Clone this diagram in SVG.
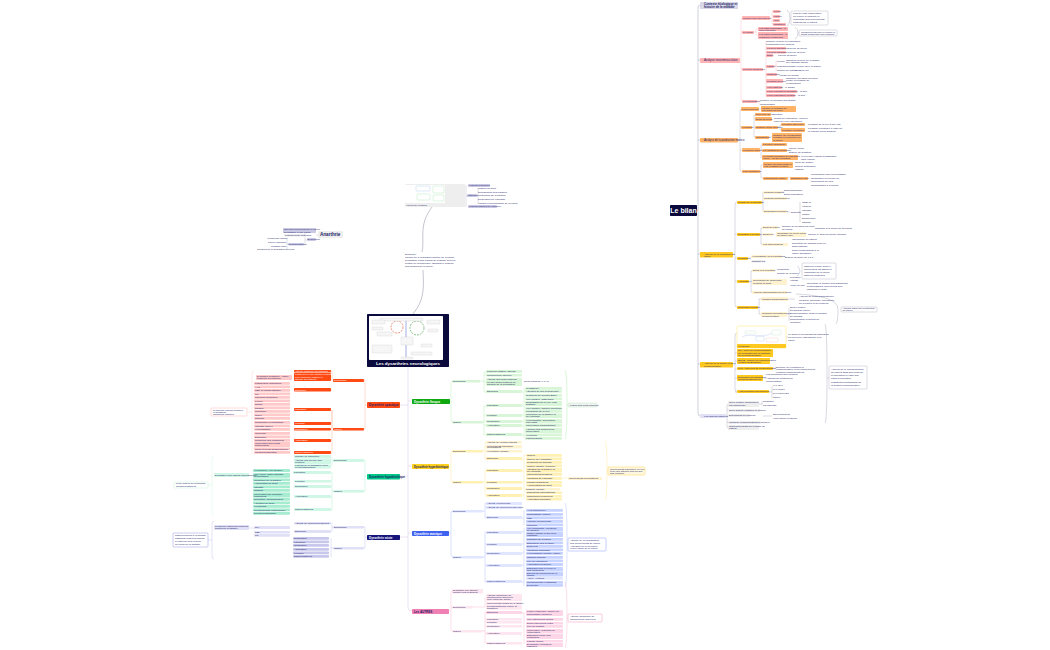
<svg xmlns="http://www.w3.org/2000/svg" width="1050" height="650" viewBox="0 0 1050 650">
<style>
text{font-family:"Liberation Sans",Arial,sans-serif;font-size:2.5px;fill:#1c1c66}
rect{rx:.8px}
.b text{font-weight:bold}
.c path,path.c{fill:none;stroke-width:.5}
.big text{font-size:4.6px;font-weight:bold}
.w text{fill:#fff}
.rp rect{fill:#ffb3b3}.or rect{fill:#ffb366}.go rect{fill:#ffc81e}.ly rect{fill:#fff3cf}.gr rect{fill:#eeeeee}
.li rect{fill:#c9c9e6}.no rect{fill:#fff;stroke:#b8b8c8;stroke-width:.5}
.rd rect{fill:#ff4a14}.pk rect{fill:#ffc9c9}.mg rect{fill:#a6ecd0}.lg rect{fill:#d0f6e6}.lv rect{fill:#e0e0f6}.lw rect{fill:#c8c8ec}
.fl rect{fill:#d8f5d8}.ye rect{fill:#fff0b4}.bl rect{fill:#c6d2ff}.lb rect{fill:#e0e6ff}.rs rect{fill:#fcd6e6}.lr rect{fill:#fde6ef}
.pkn rect{fill:#fff;stroke:#ffb0b0;stroke-width:.5}.grn rect{fill:#fff;stroke:#c8f0dc;stroke-width:.5}.vin rect{fill:#fff;stroke:#a8a8e8;stroke-width:.6}
.yen rect{fill:#fff8e0;stroke:#ffdc70;stroke-width:.6}.bln rect{fill:#fff;stroke:#9db0ff;stroke-width:.6}.rsn rect{fill:#fff;stroke:#f4a8c8;stroke-width:.6}.fln rect{fill:#f0f4f0;stroke:#c0e8c0;stroke-width:.5}
</style>
<g id="connectors" class="c">
<path stroke="#a0a0bc" stroke-width=".8" d="M697,210H698M700,5Q698,5 698,8V413Q698,416 700,416M698,60H700M698,140H700M698,254H700M698,364H700"/>
<path stroke="#ffc4c4" d="M740,60H741M742,18Q741,18 741,20V99Q741,101 742,101M741,32H742M741,69H742M770,18H772M772,11V24M772,11H773M772,16H773M772,20H773M772,24H773M754,32H756M756,29V35M756,29H758M756,35H758M763,70H765M766,42V96M757,101H760M757,101Q758,103 760,104M774,66H776M776,61V70M776,61H777M776,66H777M776,70H777"/>
<path stroke="#b0b0c0" d="M787,10Q790,12 790,18Q790,24 787,26M790,18H791M795,27Q798,29 798,33Q798,37 795,39M798,33H799M796,294Q838,296 838,309Q838,322 836,324"/>
<path stroke="#b8b8cc" d="M738,140H740M741,109Q740,109 740,112V169Q740,172 742,172M740,127H741M740,150H742M759,109H761M752,127H753M754,115V137M754,115H755M754,119H755M754,127H755M754,137H755M778,127H780M780,125V130M780,125H781M780,130H781M769,137H772M760,150H761M761,145V158M761,145H762M761,150H762M761,158H762M760,172H761M761,165V178M761,165H763M761,178H763M788,178H790"/>
<path stroke="#b0b0c4" d="M733,254H735M737,202Q735,202 735,205V305Q735,307 737,307M735,234H737M735,258H737M735,281H737M762,202H763M763,192V212M763,192H763M763,198H763M763,212H763M787,212H790M798,212H800M800,202V222M782,192H784M760,235H761M761,228V244M761,228H762M761,234H762M761,244H762M751,281H752M751,271V292M751,271H752M751,282H752M751,292H752M748,258H751M758,307H759M759,299V314M759,299H761M759,314H761M788,299H795M787,314H789M789,308V321"/>
<path stroke="#b0b0c4" d="M797,266Q800,268 800,271Q800,274 797,276M825,324Q827,326 827,375Q827,421 825,423M827,378H829"/>
<path stroke="#b0b0c4" d="M733,364H735M737,333Q735,333 735,336V389Q735,392 737,392M735,353H737M735,361H737M735,369H737M735,378H737M735,392H737M786,337H788M773,368H776M763,378H766M769,392H772M772,386V398"/>
<path stroke="#b0b0c4" d="M726,416H727M728,404Q727,404 727,406V426Q727,428 728,428M727,410H728M727,416H728M727,422H728M759,404H762M762,401V405M763,416H772"/>
<path stroke="#c0c0d0" d="M316,235H318M305,240H307M305,231V245M305,231H316M305,235H304M305,245H304M287,238V249M287,244H288M477,196H478M466,185V207M466,196H467M478,188V203"/>
<path stroke="#8a8aa0" stroke-width=".5" d="M432,207C418,225 425,240 422,252M423,270C424,290 424,300 413,314"/>
<path stroke="#d8c4e4" stroke-width=".8" d="M408,367V608Q408,611 412,611M400,405H408M400,476H408M400,537H408M408,401H412M408,466H412M408,533H412"/>
<path stroke="#ffb8a0" d="M367,405H365M365,380V429M365,380H364M365,429H364M333,380H332V371M332,390H331M332,371H331M332,410V429M332,423H331M332,440H331M332,453H331M332,410V453"/>
<path stroke="#ffd4d4" d="M254,371Q252,371 252,374V451Q252,454 254,454M252,412H248"/>
<path stroke="#b4eed4" d="M367,476H365M365,460V491M365,460H364M365,491H364M333,461H332M332,457V466M333,491H332M332,472V510M332,481H331M332,486H331M332,497H331M332,510H331"/>
<path stroke="#d4f4e4" d="M214,456Q212,456 212,459V512Q212,515 214,515M212,485H208M249,475H252"/>
<path stroke="#c4c4ec" d="M367,537H365M365,527V548M365,527H364M365,548H364M332,523V532M333,527H332M331,548H333M331,538V557M249,528H253M254,528H253"/>
<path stroke="#c4c4ec" d="M214,521Q212,521 212,524V556Q212,559 214,559M212,540H208"/>
<path stroke="#b4f0b4" d="M450,401H451M452,381Q451,381 451,384V419Q451,422 452,422M480,381H484M484,372V392M484,372H486M484,375H486M484,382H486M484,392H486M483,422H484M484,406V435M484,406H486M484,415H486M484,421H486M484,425H486M484,435H486M522,392H524M524,388V438M522,406H524M522,415H524M522,421H524M522,426H524M522,435H524M565,370Q567,372 567,404Q567,437 565,439M567,405H568"/>
<path stroke="#ffe89c" d="M449,466H451M452,451Q451,451 451,454V479Q451,482 452,482M483,451H485M485,442V459M485,442H486M485,447H486M485,451H486M485,459H486M483,482H485M485,470V495M485,470H486M485,482H486M485,488H486M485,495H486M522,459H524M524,455V499M524,455H526M522,471H524M522,482H524M522,495H524M562,478H568M605,441Q607,443 607,470Q607,498 605,500M607,471H608"/>
<path stroke="#b4c4ff" d="M449,533H451M452,511Q451,511 451,514V554Q451,557 452,557M483,511H485M485,503V518M485,503H486M485,507H486M485,518H486M483,557H485M485,532V582M485,532H486M485,544H486M485,553H486M485,565H486M485,582H486M522,518H524M524,510V525M524,528V586M522,532H524M522,544H524M522,553H524M522,565H524M522,582H524M565,503Q567,505 567,540Q567,585 565,587M567,544H568"/>
<path stroke="#fbbcd4" d="M449,611H451M452,591Q451,591 451,594V628Q451,631 452,631M451,607H452M473,607H485M485,597V607M483,631H485M485,612V643M485,612H486M485,619H486M485,622H486M485,626H486M485,633H486M485,643H486M522,613H524M524,612V644M565,582Q567,584 567,614Q567,646 565,648M567,618H568"/>
</g>
<g id="center" class="w"><rect x="367" y="314" width="82" height="53" fill="#0a0a3c"/><rect x="369" y="316" width="74" height="44" fill="#fff" rx="0"/>
<g fill="none" stroke-width=".6"><circle cx="397" cy="327" r="6" stroke="#e0502a" stroke-dasharray="2 1"/><circle cx="417" cy="328" r="7" stroke="#40a040" stroke-dasharray="2 1"/><path d="M406,319V358" stroke="#6a7ad0"/></g>
<g fill="#f6f6f6" stroke="#c0c0c0" stroke-width=".25"><rect x="380" y="318" width="43" height="3"/><rect x="372" y="320" width="13" height="4"/><rect x="372" y="327" width="11" height="3"/><rect x="377" y="332" width="15" height="4"/><rect x="427" y="320" width="13" height="4"/><rect x="428" y="329" width="10" height="3"/><rect x="401" y="337" width="12" height="8"/><rect x="421" y="344" width="11" height="3"/><rect x="372" y="345" width="20" height="8"/><rect x="411" y="352" width="21" height="3"/><rect x="401" y="357" width="12" height="2"/></g>
<text x="408" y="365" text-anchor="middle" style="font-size:4.4px;font-weight:bold;fill:#fff">Les dysarthries neurologiques</text></g>
<g id="bilan"><rect x="670" y="205" width="27" height="11" fill="#0a0a3c"/><text x="683.5" y="213" text-anchor="middle" style="font-size:7px;font-weight:bold;fill:#fff">Le bilan</text></g>
<g id="anarthrie"><rect x="318" y="231" width="25" height="7" fill="#eee"/><text x="320" y="236.2" style="font-size:4.6px;font-weight:bold">Anarthrie</text></g>
<g id="a1" class="li"><rect x="283" y="228" width="33" height="5"/><text x="284" y="230.2">Non développement de la parole</text><text x="284" y="232.6">secondaire à une lésion</text></g>
<g id="a2" class="gr"><rect x="284" y="234" width="20" height="2.5"/><text x="285" y="235.9">Lésions sous-corticales</text></g>
<g id="a3" class="li"><rect x="307" y="238" width="9" height="3"/><text x="307.5" y="240.3">Description</text></g>
<g id="a4" class="li"><rect x="288" y="243" width="16" height="2.5"/><text x="288.5" y="245">Caractéristiques</text></g>
<text id="a5" x="267" y="239">Hémiplégie faciale</text><text id="a6" x="268" y="243">Larynx immobile</text><text id="a7" x="271" y="247">Mutisme total</text><text id="a8" x="257" y="250">Troubles de la déglutition sévères</text>
<g id="top" class="gr"><rect x="405" y="184" width="60" height="23"/><rect x="405" y="185" width="40" height="18" style="fill:#fff"/><g fill="none" stroke-width=".4"><rect x="416" y="186" width="14" height="5" style="fill:#fff;stroke:#a8c8e8"/><rect x="417" y="194" width="13" height="6" style="fill:#fff;stroke:#a8e0b0"/><rect x="433" y="186" width="11" height="7" style="fill:#fff;stroke:#a8e0b0"/><rect x="433" y="195" width="11" height="6" style="fill:#fff;stroke:#a8e0b0"/></g><text x="405.5" y="206">Aperçu de la parole</text></g>
<g id="t1" class="li"><rect x="468" y="184" width="22" height="3"/><text x="469" y="186.4">Lésions bilatérales</text></g>
<g id="t2" class="li"><rect x="467" y="194" width="10" height="3"/><text x="468" y="196.4">Objectifs</text></g>
<text id="t3" x="478" y="189">Posture du sujet</text><text id="t4" x="478" y="192.5">Coordination des organes</text><text id="t5" x="478" y="196">Modulation de la hauteur</text><text id="t6" x="478" y="199.5">Respiration de l'intensité</text><text id="t7" x="478" y="203.5">Pauses et accentuation de la parole</text>
<g id="t8" class="li"><rect x="468" y="205" width="29" height="3"/><text x="469" y="207.3">Lésions diffuses de l'appareil</text></g>
<g id="mid"><text x="405" y="255">Définition :</text><text x="405" y="258">Trouble de la réalisation motrice de la parole</text><text x="405" y="261">secondaire à des lésions du système nerveux</text><text x="405" y="264">central ou périphérique, affectant le contrôle</text><text x="405" y="267">des muscles de la parole.</text></g>

<g id="r0" class="gr"><rect x="700" y="2" width="38" height="7" style="fill:#d8d8e8"/><text x="704" y="5" style="font-weight:bold;font-size:3px">Contexte étiologique et</text><text x="704" y="8" style="font-weight:bold;font-size:3px">histoire de la maladie</text></g>
<g id="r1" class="rp"><rect x="700" y="58" width="40" height="5"/><text x="704" y="61.2" style="font-size:3px">Analyse neuromusculaire</text></g>
<g id="r2" class="rp"><rect x="742" y="16" width="28" height="4"/><text x="743" y="18.8">Mobilité des articulateurs</text></g>
<g id="r3" class="rp"><rect x="773" y="10" width="7" height="3"/><text x="773.5" y="12.2">Lèvres</text></g>
<g id="r4" class="rp"><rect x="773" y="15" width="7" height="3"/><text x="773.5" y="17.2">Langue</text></g>
<g id="r5" class="rp"><rect x="773" y="19" width="7" height="3"/><text x="773.5" y="21.2">Voile</text></g>
<g id="r6" class="rp"><rect x="773" y="23" width="13" height="3"/><text x="773.5" y="25.2">Mandibule</text></g>
<g id="r7" class="no"><rect x="791" y="11" width="37" height="14"/><text x="793" y="14">Lors de cette observation,</text><text x="793" y="17">on évalue la motricité et</text><text x="793" y="20">l'amplitude des mouvements</text><text x="793" y="23">produits par le patient.</text></g>
<g id="r8" class="rp"><rect x="742" y="31" width="12" height="3"/><text x="743" y="33.2">Le tonus</text></g>
<g id="r9" class="rp"><rect x="758" y="27" width="30" height="4"/><text x="759" y="29">Les tests quantitatifs : la</text><text x="759" y="30.8">force maximale</text></g>
<g id="r10" class="rp"><rect x="758" y="32" width="30" height="7"/><text x="759" y="35">Les tests fonctionnels : la</text><text x="759" y="37.8">résistance musculaire</text></g>
<g id="r11" class="no"><rect x="799" y="30" width="38" height="6"/><text x="801" y="33">Comment parvenir à évaluer le</text><text x="801" y="35.2">tonus musculaire des organes</text></g>
<g id="r12" class="rp"><rect x="742" y="68" width="21" height="3"/><text x="743" y="70.2">La force musculaire</text></g>
<text id="r13" x="766" y="42">Mesurer la force et l'endurance</text><text id="r14" x="766" y="45">comparaison aux normes</text>
<g id="r15" class="rp"><rect x="766" y="47" width="20" height="2.5"/><text x="767" y="48.9">La force spontanée</text></g><text id="r15b" x="788" y="49">pouvoir de serrer</text>
<g id="r16" class="rp"><rect x="766" y="51" width="20" height="2.5"/><text x="767" y="52.9">La force maximale</text></g><text id="r16b" x="788" y="53">pouvoir de tenir</text>
<g id="r17" class="rp"><rect x="766" y="54" width="7" height="3"/><text x="767" y="56.2">Bulbe</text></g><text id="r17b" x="778" y="56">pouvoir de sucer</text>
<g id="r18" class="rp"><rect x="766" y="65" width="8" height="3"/><text x="767" y="67.2">Langue</text></g>
<text id="r19" x="777" y="62">Lèvres</text><text id="r19b" x="786" y="60.5">maintenir la force de la langue</text><text id="r19c" x="786" y="63">sur l'abaisse-langue</text>
<text id="r20" x="777" y="67">Plancher</text><text id="r20b" x="787" y="67">pousser la joue avec la langue</text><text id="r21" x="777" y="71">Mesure de langue</text><text id="r21b" x="795" y="71">pression 3 s</text>
<g id="r22" class="rp"><rect x="766" y="73" width="11" height="3"/><text x="767" y="75.2">Mastication</text></g><text id="r22b" x="780" y="75.5">souffle de bougie</text>
<g id="r23" class="rp"><rect x="766" y="79" width="17" height="4"/><text x="767" y="81.8">Pression buccale</text></g><text id="r23b" x="786" y="78.5">maintenir l'air dans les joues</text><text id="r23c" x="786" y="81">contre la pression de</text><text id="r23d" x="786" y="83.5">l'examinateur</text>
<g id="r24" class="rp"><rect x="766" y="86" width="16" height="3"/><text x="767" y="88.2">Vélo-pharyngé</text></g><text id="r24b" x="785" y="88">le souffle</text>
<g id="r25" class="rp"><rect x="766" y="90" width="31" height="3"/><text x="767" y="92.2">Force pendant la déglutition</text></g><text id="r25b" x="800" y="92">la toux</text>
<g id="r26" class="rp"><rect x="766" y="94" width="29" height="3"/><text x="767" y="96.2">Force phonatoire pendant</text></g><text id="r26b" x="798" y="96">la toux</text>
<g id="r27" class="rp"><rect x="742" y="100" width="15" height="3"/><text x="743" y="102.2">La coordination</text></g><text id="r27b" x="760" y="101">Mesurer la précision des gestes</text><text id="r27c" x="760" y="104.5">Comparaison</text>

<g id="o0" class="or"><rect x="700" y="138" width="38" height="4.5"/><text x="704" y="141" style="font-size:2.8px">Analyse de la production motrice</text></g>
<g id="o1" class="or"><rect x="741" y="107" width="18" height="4"/><text x="742" y="109.8">Force générale</text></g>
<g id="o2" class="or"><rect x="761" y="106" width="35" height="6"/><text x="762" y="108.5">Mesure la pression de</text><text x="762" y="111">l'air dans les joues</text></g>
<g id="o3" class="or"><rect x="741" y="126" width="11" height="3"/><text x="742" y="128.2">La motilité</text></g>
<g id="o4" class="or"><rect x="755" y="113" width="16" height="3"/><text x="755.5" y="115.2">Seuil type de respiration</text></g>
<g id="o5" class="or"><rect x="755" y="117" width="17" height="4"/><text x="756" y="119.8">Débit au repos</text></g><text id="o5b" x="774" y="119">Temps de respiration : 10/15 s</text><text id="o5c" x="774" y="121.5">pour un cycle respiratoire</text>
<g id="o6" class="or"><rect x="755" y="126" width="23" height="3"/><text x="756" y="128.2">Contrôle d'une pression</text></g>
<g id="o7" class="or"><rect x="781" y="123" width="24" height="3"/><text x="782" y="125.2">Pression intra-orale</text></g><text id="o7b" x="808" y="125">Pression de la voix 5 cm H₂O</text>
<g id="o8" class="or"><rect x="781" y="128" width="24" height="4"/><text x="782" y="130.8">Pression expiratoire</text></g><text id="o8b" x="808" y="129">Pression expiratoire à l'aide de</text><text id="o8c" x="808" y="132">la colonne d'eau graduée</text>
<g id="o9" class="or"><rect x="755" y="136" width="14" height="3"/><text x="756" y="138.2">Coordination</text></g>
<g id="o10" class="or"><rect x="772" y="133" width="30" height="9"/><text x="773" y="135.5">Contrôle de la respiration</text><text x="773" y="138">pendant la production de</text><text x="773" y="140.5">la parole</text></g>
<g id="o11" class="or"><rect x="742" y="148" width="18" height="4"/><text x="743" y="150.8">La source sonore</text></g>
<g id="o12" class="or"><rect x="762" y="143" width="25" height="3"/><text x="763" y="145.2">La tenue phonatoire</text></g>
<g id="o13" class="or"><rect x="762" y="149" width="25" height="3"/><text x="763" y="151.2">La variation de fréquence</text></g><text id="o13b" x="789" y="149">Sirène vocale</text><text id="o13c" x="789" y="153">Échelle de Tessiture</text>
<g id="o14" class="or"><rect x="762" y="155" width="36" height="5"/><text x="763" y="157">Le temps maximum de phonation</text><text x="763" y="159.3">(TMP) : [a] sur expiration</text></g><text id="o14b" x="801" y="157">Ici 5 s chez l'adulte dysarthrique</text><text id="o14c" x="801" y="160">chez l'adulte</text>
<g id="o15" class="or"><rect x="742" y="170" width="18" height="3"/><text x="743" y="172.2">Les résonateurs</text></g>
<g id="o16" class="or"><rect x="763" y="162" width="30" height="6"/><text x="764" y="164.5">Mesure du débit nasal et</text><text x="764" y="167">oral pendant la parole</text></g><text id="o16b" x="795" y="163">Miroir de Glatzel</text><text id="o16c" x="795" y="167">Test de Gutzmann</text><text id="o16d" x="795" y="170">nasalité</text>
<g id="o17" class="or"><rect x="763" y="177" width="25" height="3"/><text x="764" y="179.2">Perméabilité nasale</text></g>
<g id="o18" class="or"><rect x="790" y="177" width="18" height="3"/><text x="791" y="179.2">Nasalance orale</text></g><text id="o18b" x="811" y="175">Perméabilité des voies nasales</text><text id="o18c" x="811" y="179">Résonance et vélocité du</text><text id="o18d" x="811" y="182">mouvement du voile</text><text id="o18e" x="811" y="186">Comparaison à la norme</text>

<g id="g0" class="go"><rect x="700" y="252" width="33" height="5.5"/><text x="704" y="254.5">Analyse de la production de</text><text x="704" y="257">parole</text></g>
<g id="g1" class="go"><rect x="737" y="201" width="25" height="3"/><text x="738" y="203.2">Qualité de la phonation</text></g>
<g id="g2" class="ly"><rect x="763" y="191" width="19" height="3"/><text x="764" y="193.2">Mesures cliniques</text></g><text id="g2b" x="784" y="191">Débit thoracique</text><text id="g2c" x="784" y="195">Débit respiratoire</text>
<g id="g3" class="ly"><rect x="763" y="197" width="24" height="3"/><text x="764" y="199.2">Mesures fonctionnelles</text></g>
<g id="g4" class="ly"><rect x="763" y="210" width="24" height="3"/><text x="764" y="212.2">Evaluation perceptive</text></g><text id="g4b" x="791" y="213">Echelles</text>
<text id="g5" x="802" y="203">GRBAS</text><text id="g6" x="802" y="207">Hauteur</text><text id="g7" x="802" y="211">Intensité</text><text id="g8" x="802" y="215">Timbre</text><text id="g9" x="802" y="219">Ecoulement</text><text id="g10" x="802" y="223">Stabilité</text>
<g id="g11" class="go"><rect x="737" y="233" width="23" height="3"/><text x="738" y="235.2">Evocation à la parole</text></g>
<g id="g12" class="ly"><rect x="762" y="226" width="16" height="3"/><text x="763" y="228.2">Débit de parole</text></g><text id="g12b" x="782" y="227">Nombre de syllabes par unité</text><text id="g12c" x="782" y="230">de temps</text><text id="g12d" x="815" y="229">Comparé à la norme de sa parole</text>
<g id="g13" class="ly"><rect x="762" y="233" width="11" height="3"/><text x="763" y="235.2">Débit réel</text></g>
<g id="g14" class="ly"><rect x="776" y="232" width="30" height="5"/><text x="777" y="234.2">Comptage en fin de parole</text><text x="777" y="236.4">ou parole libre</text></g><text id="g14b" x="808" y="235">Calcule le débit au même moment</text>
<g id="g15" class="ly"><rect x="762" y="243" width="26" height="3"/><text x="763" y="245.2">Les interlocuteurs</text></g><text id="g16" x="792" y="240">Intelligibilité du patient</text><text id="g17" x="792" y="244">Répétition de phrases avec ou</text><text id="g17b" x="792" y="247">sans indiçage</text><text id="g18" x="792" y="250.5">Score d'intelligibilité à la</text><text id="g18b" x="792" y="253.5">parole spontanée</text>
<g id="g19" class="go"><rect x="737" y="257" width="11" height="3"/><text x="738" y="259.2">Résonance</text></g>
<g id="g20" class="ly"><rect x="751" y="255" width="31" height="3"/><text x="752" y="257.2">Hyponasalité ou hypernasalité</text></g><text id="g20b" x="785" y="257.5">Échelle de score de 0 à 3</text>
<g id="g21" class="gr"><rect x="751" y="260" width="14" height="2.5"/><text x="752" y="261.9">Nasalité 0/3</text></g>
<g id="g22" class="go"><rect x="737" y="280" width="12" height="3"/><text x="738" y="282.2">Articulation</text></g>
<g id="g23" class="ly"><rect x="752" y="269" width="23" height="3"/><text x="753" y="271.2">Dires et la répétition</text></g><text id="g23b" x="777" y="270">Production</text><text id="g23c" x="777" y="273.5">Qualité de la parole</text>
<g id="g24" class="no"><rect x="802" y="263" width="34" height="16"/><text x="804" y="266.5">Observer à quel point le</text><text x="804" y="269.5">mouvement est atteint et</text><text x="804" y="272.5">l'amplitude de la parole</text><text x="804" y="275.5">dans les contextes</text></g>
<g id="g25" class="ly"><rect x="752" y="279" width="35" height="6"/><text x="753" y="281.2">Répétitions de phonèmes,</text><text x="753" y="284">syllabes et mots</text></g><text id="g25b" x="790" y="278">Précision</text><text id="g25c" x="790" y="281">Vitesse</text><text id="g25d" x="790" y="286">Voulu ou non</text><text id="g25e" x="807" y="284">Répétition et mesure des distorsions</text><text id="g25f" x="807" y="287">systématiques, des erreurs d'un</text><text id="g25g" x="807" y="290">phonème à l'autre</text>
<g id="g26" class="ly"><rect x="752" y="291" width="35" height="3"/><text x="753" y="293.2">Analyse phonologique de la parole</text></g>
<g id="g27" class="go"><rect x="737" y="306" width="21" height="3"/><text x="738" y="308.2">Évaluation courante</text></g>
<g id="g28" class="ly"><rect x="761" y="297" width="27" height="4"/><text x="762" y="299.8">Phrases-transposables</text></g><text id="g28b" x="799" y="297">Analyse de mots grammaticaux</text><text id="g28c" x="799" y="301">Mesures, approche, intelligence</text><text id="g28d" x="799" y="304">de la parole et du contexte</text>
<g id="g29" class="ly"><rect x="761" y="312" width="26" height="5"/><text x="762" y="314.2">Mesures perceptuelles en</text><text x="762" y="316.5">communication</text></g><text id="g29b" x="790" y="308">Durée relative</text><text id="g29c" x="790" y="310.5">du débit de parole</text><text id="g29d" x="790" y="314">Compréhension, sens et réaction</text><text id="g29e" x="790" y="317">de phrases</text><text id="g29f" x="790" y="320">Simplification et scores de</text><text id="g29g" x="790" y="323">répétition</text>
<g id="g30" class="no"><rect x="841" y="307" width="36" height="5"/><text x="842.5" y="309.2">Aborder dans une production</text><text x="842.5" y="311.3">de parole</text></g>

<g id="h0" class="go"><rect x="700" y="362" width="33" height="5.5"/><text x="704" y="364.2">Analyse de la parole et de la</text><text x="704" y="366.8">communication</text></g>
<g id="h1"><rect x="737" y="326" width="49" height="22" fill="#fff" stroke="#fff0a8" stroke-width=".8"/><g fill="none" stroke-width=".3"><rect x="745" y="331" width="11" height="3" stroke="#b0e0c0"/><path d="M742,337C750,332 760,340 772,333" stroke="#a0b0e8"/><rect x="772" y="330" width="9" height="5" stroke="#b0e0c0"/><rect x="756" y="336" width="8" height="5" stroke="#a0b8f0"/><rect x="766" y="338" width="12" height="4" stroke="#f0b8a8"/></g><rect x="737" y="344" width="49" height="4" fill="#ffc81e" rx="0"/><text x="738" y="346.8">Hiérarchie</text></g><text id="h1b" x="788" y="335">Le débit et les indicateurs phoniques</text><text id="h1c" x="788" y="338">en lien avec l'intelligibilité et la</text><text id="h1d" x="788" y="341">parole</text>
<g id="h2" class="go"><rect x="737" y="349" width="36" height="8"/><text x="738" y="351.2">CIF : grille de compréhension</text><text x="738" y="353.6">de la maladie sur la limitation</text><text x="738" y="356">de la communication</text></g>
<g id="h3" class="go"><rect x="737" y="358" width="33" height="6"/><text x="738" y="360.5">ECVB : échelle de communication</text><text x="738" y="363">verbale de Bordeaux</text></g>
<g id="h4" class="go"><rect x="737" y="367" width="36" height="3"/><text x="738" y="369.2">TLC : test lillois de communication</text></g><text id="h4b" x="776" y="367.5">Détecter en évaluation la</text><text id="h4c" x="776" y="370">communication et les compétences</text><text id="h4d" x="776" y="372.5">verbales communicatives</text>
<g id="h5" class="go"><rect x="737" y="375" width="26" height="6"/><text x="738" y="377.5">Évaluation des stratégies</text><text x="738" y="380">communicationnelles</text></g><text id="h5b" x="766" y="375">Les fournitures des verbales</text><text id="h5c" x="766" y="379">Actualité de mesures de</text><text id="h5d" x="766" y="382">compensation</text>
<g id="h6" class="go"><rect x="737" y="390" width="32" height="3"/><text x="738" y="392.2">Autoévaluation fonctionnelle</text></g><text id="h6b" x="773" y="386">VHI, DHI</text><text id="h6c" x="773" y="390">PHI parole</text><text id="h6d" x="773" y="394">PHI parole EU</text><text id="h6e" x="773" y="398">CSN-6</text>
<g id="h7" class="no"><rect x="829" y="366" width="38" height="23"/><text x="831" y="370">Analyse de la communication</text><text x="831" y="373">du patient dans son contexte</text><text x="831" y="376">et interaction à l'aide des</text><text x="831" y="379">outils d'évaluation</text><text x="831" y="383">Possibilités d'intégration de</text><text x="831" y="386">la fonction communicative</text></g>
<g id="i0" class="lv"><rect x="700" y="414" width="26" height="4"/><text x="704" y="416.8">Les facteurs associés</text></g>
<g id="i1" class="gr"><rect x="728" y="401" width="31" height="6"/><text x="729" y="403.4">Grille clinique fonctionnelle</text><text x="729" y="405.9">par phonologie</text></g><text id="i1b" x="763" y="402">Cognition</text><text id="i1c" x="763" y="406">Psychologie</text>
<g id="i2" class="gr"><rect x="728" y="409" width="32" height="3"/><text x="729" y="411.2">Grille globale cognitive et motrice</text></g>
<g id="i3" class="gr"><rect x="728" y="414" width="22" height="3"/><text x="729" y="416.2">Dimensions du contexte</text></g><text id="i3b" x="773" y="415">Environnement</text><text id="i3c" x="773" y="419">Vécu social et familial</text>
<g id="i4" class="gr"><rect x="728" y="421" width="33" height="3"/><text x="729" y="423.2">Motifs de communications à domicile</text></g>
<g id="i5" class="gr"><rect x="728" y="425" width="31" height="5"/><text x="729" y="427.2">Outils spécialisés de la santé du</text><text x="729" y="429.4">patient</text></g>

<g id="sp" class="rd w"><rect x="367" y="402" width="33" height="6"/><text x="369" y="406" style="font-size:3px;font-weight:bold;fill:#1c1c66">Dysarthrie spastique</text></g>
<g id="sp1" class="rd w"><rect x="333" y="379" width="31" height="3"/><text x="334" y="381.2">Description</text></g>
<g id="sp2" class="rd w"><rect x="333" y="428" width="31" height="2.6"/><text x="334" y="430.2">Signes</text></g>
<g id="sp3" class="rd w"><rect x="294" y="370" width="37" height="2.5"/><text x="295" y="371.9">Atteinte bilatérale du faisceau</text></g>
<g id="sp4" class="rd w"><rect x="294" y="373" width="37" height="8"/><text x="295" y="375.3">Lésion de la voie motrice centrale</text><text x="295" y="377.6">avec paralysie motrice et</text><text x="295" y="379.9">atteinte du système</text></g>
<g id="sp5" class="rd w"><rect x="294" y="388" width="37" height="3.5"/><text x="295" y="390.6">Étiologies</text></g>
<g id="sp6" class="rd w"><rect x="294" y="408" width="37" height="3"/><text x="295" y="410.2">Phonation</text></g>
<g id="sp7" class="rd w"><rect x="294" y="422" width="37" height="3"/><text x="295" y="424.2">Prosodie</text></g>
<g id="sp8" class="rd w"><rect x="294" y="428" width="37" height="2.6"/><text x="295" y="430.2">Résonance</text></g>
<g id="sp9" class="rd w"><rect x="294" y="439" width="37" height="3"/><text x="295" y="441.2">Articulation</text></g>
<g id="sp10" class="rd w"><rect x="294" y="451" width="37" height="3"/><text x="295" y="453.2">Signes associés</text></g>
<g id="p0" class="pk"><rect x="256" y="375" width="36" height="5"/><text x="257" y="377.2">Dysarthrie spastique : lésion</text><text x="257" y="379.4">bilatérale du faisceau</text></g>
<g id="p1" class="pk"><rect x="254" y="382" width="36" height="2.7"/><text x="255" y="384">Pathologies vasculaires</text></g>
<g id="p2" class="pk"><rect x="254" y="385.5" width="36" height="2.7"/><text x="255" y="387.5">AVC</text></g>
<g id="p3" class="pk"><rect x="254" y="389" width="36" height="2.7"/><text x="255" y="391">SEP et lésions diffuses</text></g>
<g id="p4" class="pk"><rect x="254" y="392.5" width="36" height="2.7"/><text x="255" y="394.5">TC</text></g>
<g id="p5" class="pk"><rect x="254" y="396" width="36" height="2.7"/><text x="255" y="398">Tumeurs cérébrales</text></g>
<g id="p6" class="pk"><rect x="254" y="399.5" width="36" height="2.7"/><text x="255" y="401.5">Forcée</text></g>
<g id="p7" class="pk"><rect x="254" y="403" width="36" height="2.7"/><text x="255" y="405">Serrée</text></g>
<g id="p8" class="pk"><rect x="254" y="406.5" width="36" height="2.7"/><text x="255" y="408.5">Rauque</text></g>
<g id="p9" class="pk"><rect x="254" y="410" width="36" height="2.7"/><text x="255" y="412">Monotone</text></g>
<g id="p10" class="pk"><rect x="254" y="413.5" width="36" height="2.7"/><text x="255" y="415.5">Grave</text></g>
<g id="p11" class="pk"><rect x="254" y="417" width="36" height="2.7"/><text x="255" y="419">Ralentie</text></g>
<g id="p12" class="pk"><rect x="254" y="421" width="36" height="2.7"/><text x="255" y="423">Régularisée et monotonie</text></g>
<g id="p13" class="pk"><rect x="254" y="424.5" width="36" height="2.7"/><text x="255" y="426.5">Intensité pauvre</text></g>
<g id="p14" class="pk"><rect x="254" y="428" width="36" height="2.7"/><text x="255" y="430">Hypernasalité</text></g>
<g id="p15" class="pk"><rect x="254" y="432" width="36" height="2.7"/><text x="255" y="434">Imprécise</text></g>
<g id="p16" class="pk"><rect x="254" y="435.5" width="36" height="2.7"/><text x="255" y="437.5">Distorsion</text></g>
<g id="p17" class="pk"><rect x="254" y="439" width="36" height="2.7"/><text x="255" y="441">Réduction des consonnes</text></g>
<g id="p18" class="pk"><rect x="254" y="442" width="36" height="5"/><text x="255" y="444.2">Imprécision des points</text><text x="255" y="446.4">d'articulation</text></g>
<g id="p19" class="pk"><rect x="254" y="447.5" width="36" height="2.7"/><text x="255" y="449.5">Rires et pleurs spasmodiques</text></g>
<g id="p20" class="pk"><rect x="254" y="451" width="36" height="2.7"/><text x="255" y="453">Troubles déglutition</text></g>
<g id="sn" class="pkn"><rect x="211" y="408" width="36" height="8"/><text x="213" y="410.5">Syndrome pseudo-bulbaire</text><text x="213" y="412.8">et spasticité</text><text x="213" y="415">Capacités réduites</text></g>

<g id="hk" style="--x:0"><rect x="367" y="474" width="33" height="5.5" fill="#00c888"/><text x="369" y="478" style="font-size:3px;font-weight:bold">Dysarthrie hypokinétique</text></g>
<g id="hk1" class="lg"><rect x="333" y="459" width="31" height="3"/><text x="334" y="461.2">Description</text></g>
<g id="hk2" class="lg"><rect x="333" y="490" width="31" height="2.6"/><text x="334" y="492">Signes</text></g>
<g id="hk3" class="lg"><rect x="294" y="455" width="37" height="3"/><text x="295" y="457.2">Maladie de Parkinson</text></g>
<g id="hk4" class="lg"><rect x="294" y="458.5" width="37" height="5.5"/><text x="295" y="460.7">Atteinte des noyaux gris</text><text x="295" y="463">centraux</text></g>
<g id="hk5" class="lg"><rect x="294" y="464.5" width="37" height="4"/><text x="295" y="466.2">Lésions de la substance noire</text><text x="295" y="468.1">et parkinsonismes</text></g>
<g id="hk6" class="lg"><rect x="293" y="471" width="38" height="3"/><text x="294" y="473.2">Phonation</text></g>
<g id="hk7" class="lg"><rect x="294" y="480" width="37" height="2.5"/><text x="295" y="481.9">Prosodie</text></g>
<g id="hk8" class="lg"><rect x="294" y="485" width="37" height="3"/><text x="295" y="487.2">Résonance</text></g>
<g id="hk9" class="lg"><rect x="294" y="495" width="37" height="3"/><text x="295" y="497.2">Articulation</text></g>
<g id="hk10" class="lg"><rect x="294" y="508" width="37" height="3"/><text x="295" y="510.2">Signes associés</text></g>
<g id="m0" class="mg"><rect x="253" y="469" width="37" height="3"/><text x="254" y="471.2">Hypophonie, voix soufflée</text></g>
<g id="m1" class="mg"><rect x="253" y="473" width="37" height="4.8"/><text x="254" y="475">Voix voilée, faible intensité</text><text x="254" y="477.2">et monotonie</text></g>
<g id="m2" class="mg"><rect x="253" y="478.5" width="37" height="2.7"/><text x="254" y="480.5">Monotonie de la hauteur</text></g>
<g id="m3" class="mg"><rect x="253" y="482" width="37" height="2.7"/><text x="254" y="484">Accélération du débit</text></g>
<g id="m4" class="mg"><rect x="253" y="485.5" width="37" height="2.7"/><text x="254" y="487.5">Intensité</text></g>
<g id="m5" class="mg"><rect x="253" y="489" width="37" height="2.7"/><text x="254" y="491">Nasalité</text></g>
<g id="m6" class="mg"><rect x="253" y="492.5" width="37" height="5"/><text x="254" y="494.7">Imprécision par réduction</text><text x="254" y="497">d'amplitude</text></g>
<g id="m7" class="mg"><rect x="253" y="498" width="37" height="2.7"/><text x="254" y="500">Répétition, bredouillement</text></g>
<g id="m8" class="mg"><rect x="253" y="501.5" width="37" height="2.7"/><text x="254" y="503.5">Altération de débit</text></g>
<g id="m9" class="mg"><rect x="253" y="505" width="37" height="2.7"/><text x="254" y="507">Hypomimie</text></g>
<g id="m10" class="mg"><rect x="253" y="508.5" width="37" height="2.7"/><text x="254" y="510.5">Tremblements, bradykinésie</text></g>
<g id="m11" class="mg"><rect x="253" y="512" width="37" height="2.7"/><text x="254" y="514">Troubles déglutition</text></g>
<g id="m12" class="lg"><rect x="214" y="473" width="35" height="4"/><text x="215" y="475.7">Dysarthrie avec signes parkinsoniens</text></g>
<g id="mn" class="grn"><rect x="174" y="482" width="34" height="6"/><text x="176" y="484.4">Profil moteur de Parkinson</text><text x="176" y="487">Troubles associés</text></g>

<g id="vi" class="w"><rect x="367" y="535" width="33" height="5" fill="#15157c"/><text x="369" y="538.8" style="font-size:3px;font-weight:bold;fill:#fff">Dysarthrie mixte</text></g>
<g id="vi1" class="lv"><rect x="333" y="526" width="31" height="2.5"/><text x="334" y="527.9">Description</text></g>
<g id="vi2" class="lv"><rect x="333" y="547" width="31" height="2.5"/><text x="334" y="548.9">Signes</text></g>
<g id="vi3" class="lv"><rect x="294" y="522" width="37" height="2.5"/><text x="295" y="523.9">Atteinte de plusieurs systèmes</text></g>
<g id="vi4" class="lv"><rect x="294" y="530" width="37" height="3"/><text x="295" y="532.2">Étiologies</text></g>
<g id="v1" class="lw"><rect x="293" y="537" width="36" height="2.8"/><text x="294" y="539">Respiration</text></g>
<g id="v2" class="lw"><rect x="293" y="540.5" width="36" height="2.8"/><text x="294" y="542.5">Phonation</text></g>
<g id="v3" class="lw"><rect x="293" y="544" width="36" height="2.8"/><text x="294" y="546">Résonance</text></g>
<g id="v4" class="lw"><rect x="293" y="548" width="36" height="2.8"/><text x="294" y="550">Articulation</text></g>
<g id="v5" class="lw"><rect x="293" y="551.5" width="36" height="2.8"/><text x="294" y="553.5">Prosodie</text></g>
<g id="v6" class="lw"><rect x="293" y="555" width="36" height="2.8"/><text x="294" y="557">Signes associés</text></g>
<g id="v7" class="lv"><rect x="254" y="526" width="36" height="3"/><text x="255" y="528.2">SLA</text></g>
<g id="v8" class="lv"><rect x="254" y="531" width="36" height="2.5"/><text x="255" y="532.9">SEP</text></g>
<g id="v9" class="lv"><rect x="254" y="534" width="36" height="2.7"/><text x="255" y="536">TC</text></g>
<g id="v10" class="lv"><rect x="214" y="525" width="35" height="5"/><text x="215" y="527.2">Syndrome associant plusieurs</text><text x="215" y="529.4">formes de dysarthrie</text></g>
<g id="vn" class="vin"><rect x="173" y="533" width="35" height="14"/><text x="175" y="536">Signes propres à la maladie</text><text x="175" y="539">associant plusieurs formes</text><text x="175" y="542">Le tableau peut évoluer</text><text x="175" y="545">au cours de la maladie</text></g>

<g id="fl" class="w"><rect x="412" y="399" width="38" height="5" fill="#10a810"/><text x="414" y="402.8" style="font-size:3px;font-weight:bold;fill:#fff">Dysarthrie flasque</text></g>
<g id="f1" class="fl"><rect x="452" y="380" width="28" height="2.5"/><text x="453" y="381.9">Description</text></g>
<g id="f2" class="fl"><rect x="452" y="421" width="31" height="2.5"/><text x="453" y="422.9">Signes</text></g>
<g id="f3" class="fl"><rect x="486" y="370" width="36" height="3"/><text x="487" y="372.2">Paralysie flasque, atteinte</text></g>
<g id="f4" class="fl"><rect x="486" y="374" width="36" height="2.5"/><text x="487" y="375.9">Motoneurone inférieur</text></g>
<g id="f5" class="fl"><rect x="486" y="378" width="36" height="8"/><text x="487" y="380.2">Atteinte des nerfs crâniens</text><text x="487" y="382.5">ou des unités motrices en</text><text x="487" y="384.8">fonction de la localisation</text></g><text id="f5b" x="524" y="382">Nerfs crâniens IX à XII</text>
<g id="f6" class="fl"><rect x="486" y="390" width="36" height="3"/><text x="487" y="392.2">Étiologies</text></g>
<g id="f7" class="fl"><rect x="486" y="404" width="36" height="3"/><text x="487" y="406.2">Phonation</text></g>
<g id="f8" class="fl"><rect x="486" y="414" width="36" height="3"/><text x="487" y="416.2">Prosodie</text></g>
<g id="f9" class="fl"><rect x="486" y="420" width="36" height="3"/><text x="487" y="422.2">Résonance</text></g>
<g id="f10" class="fl"><rect x="486" y="424" width="36" height="3"/><text x="487" y="426.2">Articulation</text></g>
<g id="f11" class="fl"><rect x="486" y="433" width="36" height="3"/><text x="487" y="435.2">Signes associés</text></g>
<g id="fa" class="fl"><rect x="525" y="387" width="37" height="2.7"/><text x="526" y="389">Myasthénie</text></g>
<g id="fb" class="fl"><rect x="525" y="390" width="37" height="2.7"/><text x="526" y="392">Atteintes du nerf périphérique</text></g>
<g id="fc" class="fl"><rect x="525" y="394" width="37" height="2.7"/><text x="526" y="396">Syndrome de Guillain-Barré</text></g>
<g id="fd" class="fl"><rect x="525" y="397.5" width="37" height="2.7"/><text x="526" y="399.5">Voix soufflée, asthénique</text></g>
<g id="fe" class="fl"><rect x="525" y="401" width="37" height="5"/><text x="526" y="403.2">Dégradation de la voix, fuite</text><text x="526" y="405.4">glottique</text></g>
<g id="ff" class="fl"><rect x="525" y="407" width="37" height="2.7"/><text x="526" y="409">Voix soufflée, hauteur monotone</text></g>
<g id="fg" class="fl"><rect x="525" y="410" width="37" height="2.7"/><text x="526" y="412">Fluctuation de la voix</text></g>
<g id="fh" class="fl"><rect x="525" y="413.5" width="37" height="4.5"/><text x="526" y="415.4">Monotonie de la hauteur et</text><text x="526" y="417.4">de l'intensité</text></g>
<g id="fi" class="fl"><rect x="525" y="419" width="37" height="4.5"/><text x="526" y="421">Hypernasalité, déperdition</text><text x="526" y="423">d'air nasal</text></g>
<g id="fj" class="fl"><rect x="525" y="424" width="37" height="3"/><text x="526" y="426.2">Imprécision consonantique</text></g>
<g id="fk" class="fl"><rect x="525" y="428" width="37" height="5"/><text x="526" y="430.2">Atrophie des muscles par</text><text x="526" y="432.4">dénervation</text></g>
<g id="fl2" class="fl"><rect x="525" y="433.5" width="37" height="2.7"/><text x="526" y="435.5">Hypotonie</text></g>
<g id="fm" class="fl"><rect x="525" y="437" width="37" height="2.7"/><text x="526" y="439">Fasciculations</text></g>
<g id="fn" class="fln"><rect x="568" y="403" width="29" height="4"/><text x="570" y="405.8">Lésion des nerfs crâniens</text></g>

<g id="hy"><rect x="412" y="464" width="37" height="5" fill="#ffd21e"/><text x="414" y="467.8" style="font-size:2.8px;font-weight:bold">Dysarthrie hyperkinétique</text></g>
<g id="y1" class="ye"><rect x="452" y="450" width="31" height="2.5"/><text x="453" y="451.9">Description</text></g>
<g id="y2" class="ye"><rect x="452" y="481" width="31" height="2.5"/><text x="453" y="482.9">Signes</text></g>
<g id="y3" class="ly"><rect x="486" y="441" width="36" height="2.5"/><text x="487" y="442.9">Atteinte de l'extrapyramidal</text></g>
<g id="y4" class="ly"><rect x="486" y="445" width="36" height="3.5"/><text x="487" y="446.6">Mouvements anormaux</text><text x="487" y="448.3">involontaires</text></g>
<g id="y5" class="ly"><rect x="486" y="450" width="36" height="2.5"/><text x="487" y="451.9">Hypertonie variable</text></g>
<g id="y6" class="ye"><rect x="486" y="457" width="36" height="3"/><text x="487" y="459.2">Étiologies</text></g>
<g id="y7" class="ye"><rect x="486" y="469" width="36" height="3"/><text x="487" y="471.2">Phonation</text></g>
<g id="y8" class="ye"><rect x="486" y="481" width="36" height="2.5"/><text x="487" y="482.9">Prosodie</text></g>
<g id="y9" class="ye"><rect x="486" y="487" width="36" height="3"/><text x="487" y="489.2">Résonance</text></g>
<g id="y10" class="ye"><rect x="486" y="494" width="36" height="3"/><text x="487" y="496.2">Articulation</text></g>
<g id="ya" class="ye"><rect x="526" y="454" width="36" height="2.8"/><text x="527" y="456">Chorée</text></g>
<g id="yb" class="ye"><rect x="526" y="457.5" width="36" height="2.8"/><text x="527" y="459.5">Chorée de Huntington</text></g>
<g id="yc" class="ye"><rect x="526" y="461" width="36" height="2.8"/><text x="527" y="463">Syndrome de Tourette</text></g>
<g id="yd" class="ye"><rect x="526" y="464.5" width="36" height="2.8"/><text x="527" y="466.5">Timbre variable, irrégulier</text></g>
<g id="ye" class="ye"><rect x="526" y="468" width="36" height="4.5"/><text x="527" y="469.9">Variation de la hauteur et</text><text x="527" y="471.9">de l'intensité</text></g>
<g id="yf" class="ye"><rect x="526" y="473" width="36" height="2.8"/><text x="527" y="475">Interruptions brusques</text></g>
<g id="yg" class="ye"><rect x="526" y="477" width="36" height="2.8"/><text x="527" y="479">Variations de l'intensité</text></g>
<g id="yh" class="ye"><rect x="526" y="481" width="36" height="2.5"/><text x="527" y="482.9">Pauses inadaptées</text></g>
<g id="yi" class="ye"><rect x="526" y="484" width="36" height="2.8"/><text x="527" y="486">Accélérations du débit</text></g>
<g id="yj" class="ly"><rect x="525" y="488" width="35" height="2.5"/><text x="526" y="489.9">Nasalité variable</text></g>
<g id="yk" class="ye"><rect x="526" y="491.5" width="36" height="2.5"/><text x="527" y="493.4">Distorsions intermittentes</text></g>
<g id="yl" class="ye"><rect x="526" y="495" width="36" height="2.5"/><text x="527" y="496.9">Séquences irrégulières</text></g>
<g id="ym" class="ye"><rect x="526" y="498" width="36" height="2.5"/><text x="527" y="499.9">Articulation saccadée</text></g>
<g id="yn" class="ly"><rect x="568" y="477" width="34" height="3"/><text x="569" y="479.2">Mouvements involontaires</text></g>
<g id="yo" class="yen"><rect x="608" y="467" width="37" height="8"/><text x="610" y="469.5">Mouvements anormaux en lien</text><text x="610" y="471.7">avec une atteinte des noyaux</text><text x="610" y="473.9">gris centraux</text></g>

<g id="at" class="w"><rect x="412" y="531" width="37" height="5" fill="#3f62f0"/><text x="414" y="534.8" style="font-size:3px;font-weight:bold;fill:#fff">Dysarthrie ataxique</text></g>
<g id="b1" class="lb"><rect x="452" y="510" width="31" height="2.5"/><text x="453" y="511.9">Description</text></g>
<g id="b2" class="lb"><rect x="452" y="556" width="31" height="2.5"/><text x="453" y="557.9">Signes</text></g>
<g id="b3" class="lb"><rect x="486" y="502" width="36" height="3"/><text x="487" y="504.2">Atteinte cérébelleuse</text></g>
<g id="b4" class="lb"><rect x="486" y="506" width="36" height="3"/><text x="487" y="508.2">Atteinte du cervelet ou ses voies</text></g>
<g id="b5" class="lb"><rect x="486" y="516" width="36" height="3"/><text x="487" y="518.2">Étiologies</text></g>
<g id="b6" class="lb"><rect x="486" y="531" width="36" height="3"/><text x="487" y="533.2">Phonation</text></g>
<g id="b7" class="lb"><rect x="486" y="543" width="36" height="3"/><text x="487" y="545.2">Prosodie</text></g>
<g id="b8" class="lb"><rect x="486" y="552" width="36" height="3"/><text x="487" y="554.2">Résonance</text></g>
<g id="b9" class="lb"><rect x="486" y="564" width="36" height="3"/><text x="487" y="566.2">Articulation</text></g>
<g id="b10" class="lb"><rect x="486" y="580" width="36" height="3"/><text x="487" y="582.2">Signes associés</text></g>
<g id="ba" class="bl"><rect x="526" y="509" width="37" height="2.8"/><text x="527" y="511">AVC cérébelleux</text></g>
<g id="bb" class="bl"><rect x="526" y="513" width="37" height="2.8"/><text x="527" y="515">Traumatisme crânien</text></g>
<g id="bc" class="bl"><rect x="526" y="516.5" width="37" height="2.8"/><text x="527" y="518.5">SEP</text></g>
<g id="bd" class="bl"><rect x="526" y="520" width="37" height="2.8"/><text x="527" y="522">Atrophie cérébelleuse</text></g>
<g id="be" class="bl"><rect x="526" y="523.5" width="37" height="2.8"/><text x="527" y="525.5">Tumeurs</text></g>
<g id="bf" class="bl"><rect x="526" y="527" width="37" height="4.5"/><text x="527" y="529">Voix tremblante, variations</text><text x="527" y="531">de hauteur</text></g>
<g id="bg" class="bl"><rect x="526" y="532" width="37" height="5"/><text x="527" y="534.2">Timbre rauque et dur avec</text><text x="527" y="536.4">instabilité</text></g>
<g id="bh" class="bl"><rect x="526" y="538" width="37" height="2.8"/><text x="527" y="540">Scansion de la parole</text></g>
<g id="bi" class="bl"><rect x="526" y="541.5" width="37" height="2.8"/><text x="527" y="543.5">Égalisation des syllabes</text></g>
<g id="bj" class="bl"><rect x="526" y="545" width="37" height="2.8"/><text x="527" y="547">Débit lent</text></g>
<g id="bk" class="bl"><rect x="526" y="548.5" width="37" height="2.8"/><text x="527" y="550.5">Variations d'intensité</text></g>
<g id="bl" class="bl"><rect x="526" y="552" width="37" height="2.8"/><text x="527" y="554">Hypernasalité variable, légère</text></g>
<g id="bm" class="bl"><rect x="526" y="556" width="37" height="2.8"/><text x="527" y="558">Nasalité normale</text></g>
<g id="bn" class="bl"><rect x="526" y="559.5" width="37" height="2.8"/><text x="527" y="561.5">Peu de résonance</text></g>
<g id="bo" class="bl"><rect x="526" y="563" width="37" height="3"/><text x="527" y="565.2">Articulation irrégulière</text></g>
<g id="bp" class="bl"><rect x="526" y="567" width="37" height="4.5"/><text x="527" y="569">Distorsion des voyelles et</text><text x="527" y="571">des consonnes</text></g>
<g id="bq" class="bl"><rect x="526" y="572" width="37" height="4.5"/><text x="527" y="574">Erreurs de placement de la</text><text x="527" y="576">langue</text></g>
<g id="br" class="lb"><rect x="526" y="577" width="37" height="2.8"/><text x="527" y="579">Ataxie, vertiges</text></g>
<g id="bs" class="bl"><rect x="526" y="581" width="37" height="2.8"/><text x="527" y="583">Tremblements, nystagmus</text></g>
<g id="bt" class="bl"><rect x="526" y="584" width="37" height="2.8"/><text x="527" y="586">Dysmétrie</text></g>
<g id="bu" class="bln"><rect x="568" y="538" width="38" height="13"/><text x="570" y="541">Atteinte de la coordination</text><text x="570" y="543.5">des mouvements de parole</text><text x="570" y="546.5">Altération de la précision</text><text x="570" y="549">et du rythme de la parole</text></g>

<g id="au"><rect x="412" y="609" width="37" height="5" fill="#f080b4"/><text x="414" y="612.8" style="font-size:3px;font-weight:bold">Les AUTRES</text></g>
<g id="q1" class="lr"><rect x="452" y="589" width="31" height="4.5"/><text x="453" y="590.9">Dysarthrie par atteinte</text><text x="453" y="592.9">multiple des systèmes</text></g>
<g id="q2" class="lr"><rect x="452" y="606" width="21" height="2.5"/><text x="453" y="607.9">Description</text></g>
<g id="q3" class="lr"><rect x="452" y="630" width="31" height="2.5"/><text x="453" y="631.9">Signes</text></g>
<g id="q4" class="lr"><rect x="486" y="594" width="36" height="7"/><text x="487" y="596">Atteinte unilatérale du</text><text x="487" y="598">motoneurone supérieur</text><text x="487" y="600">avec paralysie faciale</text></g>
<g id="q5" class="lr"><rect x="486" y="602" width="36" height="2.5"/><text x="487" y="603.9">Mouvements limités de la langue</text></g>
<g id="q6" class="lr"><rect x="486" y="605" width="36" height="4.5"/><text x="487" y="607">Symptomatologie légère et</text><text x="487" y="609">transitoire</text></g>
<g id="q7" class="rs"><rect x="486" y="611" width="36" height="3"/><text x="487" y="613.2">Étiologies</text></g>
<g id="q8" class="lr"><rect x="486" y="618" width="36" height="2.5"/><text x="487" y="619.9">Phonation</text></g>
<g id="q9" class="lr"><rect x="486" y="621" width="36" height="2.5"/><text x="487" y="622.9">Prosodie</text></g>
<g id="q10" class="lr"><rect x="486" y="625" width="36" height="2.5"/><text x="487" y="626.9">Résonance</text></g>
<g id="q11" class="lr"><rect x="486" y="632" width="36" height="3"/><text x="487" y="634.2">Articulation</text></g>
<g id="q12" class="lr"><rect x="486" y="642" width="36" height="2.5"/><text x="487" y="643.9">Signes associés</text></g>
<g id="qa" class="rs"><rect x="526" y="610" width="37" height="6"/><text x="527" y="612.4">Lésion vasculaire, tumeur ou</text><text x="527" y="614.8">traumatisme unilatéral</text></g>
<g id="qb" class="rs"><rect x="526" y="618" width="37" height="2.8"/><text x="527" y="620">Voix légèrement rauque</text></g>
<g id="qc" class="rs"><rect x="526" y="622" width="37" height="2.5"/><text x="527" y="623.9">Débit légèrement réduit</text></g>
<g id="qd" class="rs"><rect x="526" y="625" width="37" height="2.8"/><text x="527" y="627">Peu de nasalité</text></g>
<g id="qe" class="rs"><rect x="526" y="629" width="37" height="4.5"/><text x="527" y="631">Imprécision, réduction de</text><text x="527" y="633">l'articulation</text></g>
<g id="qf" class="rs"><rect x="526" y="634" width="37" height="5"/><text x="527" y="636">Distorsion légère des</text><text x="527" y="638">consonnes</text></g>
<g id="qg" class="rs"><rect x="526" y="640" width="37" height="2.5"/><text x="527" y="641.9">Parésie faciale</text></g>
<g id="qh" class="rs"><rect x="526" y="643" width="37" height="4"/><text x="527" y="644.8">Dysphagie et troubles</text><text x="527" y="646.6">associés</text></g>
<g id="qn" class="rsn"><rect x="568" y="614" width="34" height="8"/><text x="570" y="616.8">Atteinte unilatérale du</text><text x="570" y="620">motoneurone supérieur</text></g>
</svg>
